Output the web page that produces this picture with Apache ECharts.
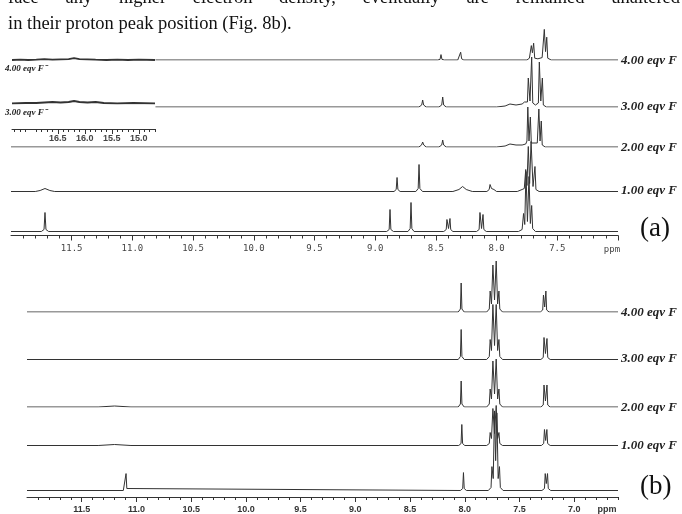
<!DOCTYPE html>
<html>
<head>
<meta charset="utf-8">
<script src="https://cdn.jsdelivr.net/npm/echarts@6.0.0/dist/echarts.min.js"></script>
<style>
html,body{margin:0;padding:0;background:#fff;}
#chart{width:682px;height:514px;}
</style>
</head>
<body>
<div id="chart"></div>
<script>
// 谱线数据 [ppm, 强度]
// (a) 面板
var a0 = [[12.0,0],[11.75,0],[11.728,2],[11.72,19],[11.712,2],[11.69,0],
  [8.905,0],[8.885,2],[8.878,22],[8.871,2],[8.85,0],
  [8.73,0],[8.712,3],[8.705,29],[8.698,3],[8.68,0],
  [8.435,0],[8.415,2],[8.409,12],[8.396,3],[8.384,13],[8.378,2],[8.36,0],
  [8.165,0],[8.144,2],[8.137,19],[8.124,3],[8.112,17],[8.105,2],[8.085,0],
  [7.82,0],[7.79,2],[7.778,18],[7.768,7],[7.758,60],[7.746,10],[7.733,55],[7.722,8],[7.711,26],[7.703,3],[7.68,0],
  [7.0,0]];
var a1 = [[12.0,0],[11.80,0],[11.76,1],[11.72,3],[11.68,1],[11.64,0],
  [8.845,0],[8.827,2],[8.82,14],[8.813,2],[8.795,0],
  [8.665,0],[8.646,3],[8.639,27],[8.632,3],[8.61,0],
  [8.36,0],[8.31,2],[8.28,5],[8.25,2],[8.2,0],
  [8.08,0],[8.061,2],[8.054,7],[8.042,3],[8.03,5],[8.022,2],[8.0,0],
  [7.83,0],[7.79,2],[7.772,3],[7.76,22],[7.75,6],[7.739,45],[7.728,8],[7.716,50],[7.70,5],[7.684,25],[7.676,2],[7.65,0],
  [7.0,0]];
var a2 = [[12.0,0],[8.64,0],[8.618,2],[8.609,5],[8.60,2],[8.58,0],
  [8.475,0],[8.452,2],[8.444,7],[8.436,2],[8.415,0],
  [8.0,0],[7.93,1],[7.89,3],[7.84,2],[7.79,2],[7.775,4],[7.76,3],
  [7.75,6],[7.743,40],[7.733,6],[7.722,30],[7.714,4],[7.70,2],[7.665,4],[7.652,38],[7.642,6],[7.632,26],[7.624,2],[7.60,0],
  [7.0,0]];
var a3 = [[10.81,0],[8.64,0],[8.617,2],[8.609,7],[8.601,2],[8.58,0],
  [8.475,0],[8.452,2],[8.444,10],[8.436,2],[8.415,0],
  [8.0,0],[7.93,1],[7.89,3],[7.84,2],[7.79,3],[7.77,5],[7.755,4],
  [7.746,5],[7.739,29],[7.725,6],[7.711,50],[7.702,4],[7.68,2],[7.656,4],[7.648,45],[7.636,6],[7.623,29],[7.615,2],[7.59,0],
  [7.0,0]];
var a4 = [[10.81,0],[8.485,0],[8.466,1],[8.458,9],[8.45,1],[8.43,0],
  [8.32,0],[8.304,2],[8.296,13],[8.288,2],[8.27,0],
  [7.75,0],[7.73,3],[7.714,24],[7.705,12],[7.695,28],[7.686,3],[7.66,2],[7.625,4],[7.607,51],[7.597,14],[7.587,38],[7.579,3],[7.55,0],
  [7.0,0]];
// (a) 插图 16-15 ppm
var inset4 = [[17.35,0],[17.2,0.5],[17.05,0],[16.9,0.5],[16.75,1.5],[16.6,0.5],[16.45,1],[16.3,1.5],[16.2,3],[16.1,1.5],[15.95,1],[15.8,0.5],[15.6,0],[15.4,0.5],[15.2,0],[15.0,0.5],[14.7,0]];
var inset3 = [[17.35,0],[17.1,0.5],[16.9,0.5],[16.75,1],[16.6,1.5],[16.45,1],[16.3,1.5],[16.2,2.5],[16.1,1.5],[15.95,1],[15.8,1.5],[15.65,0.5],[15.4,0],[15.1,0.5],[14.7,0]];
// (b) 面板
var b0 = [[12.0,0],[11.12,0],[11.102,2],[11.095,17],[11.088,2],[11.07,0],
  [8.04,0],[8.019,2],[8.012,18],[8.005,2],[7.985,0],
  [7.785,0],[7.76,3],[7.752,24],[7.74,12],[7.728,80],[7.718,30],[7.707,78],[7.695,12],[7.683,24],[7.675,3],[7.65,0],
  [7.295,0],[7.272,2],[7.265,17],[7.255,7],[7.244,17],[7.237,2],[7.215,0],
  [6.6,0]];
var b1 = [[12.0,0],[11.35,0],[11.2,1],[11.05,0],
  [8.055,0],[8.034,2],[8.027,21],[8.02,2],[8.0,0],
  [7.80,0],[7.776,2],[7.768,13],[7.756,7],[7.743,37],[7.728,12],[7.713,40],[7.70,7],[7.688,13],[7.68,2],[7.655,0],
  [7.30,0],[7.279,2],[7.272,16],[7.261,5],[7.25,16],[7.243,2],[7.22,0],
  [6.6,0]];
var b2 = [[12.0,0],[11.35,0],[11.2,1],[11.05,0],
  [8.06,0],[8.04,3],[8.033,26],[8.026,3],[8.005,0],
  [7.80,0],[7.776,3],[7.768,18],[7.756,8],[7.743,46],[7.728,13],[7.713,48],[7.70,8],[7.688,18],[7.68,3],[7.655,0],
  [7.305,0],[7.283,2],[7.276,22],[7.263,6],[7.249,22],[7.242,2],[7.22,0],
  [6.6,0]];
var b3 = [[12.0,0],[8.06,0],[8.04,3],[8.033,30],[8.026,3],[8.005,0],
  [7.80,0],[7.776,3],[7.768,20],[7.756,9],[7.743,55],[7.728,14],[7.713,55],[7.70,9],[7.688,20],[7.68,3],[7.655,0],
  [7.305,0],[7.283,2],[7.276,22],[7.263,6],[7.249,21],[7.242,2],[7.22,0],
  [6.6,0]];
var b4 = [[12.0,0],[8.06,0],[8.04,3],[8.033,29],[8.026,3],[8.005,0],
  [7.80,0],[7.776,3],[7.768,21],[7.756,8],[7.743,47],[7.728,12],[7.713,51],[7.70,8],[7.688,21],[7.68,3],[7.655,0],
  [7.31,0],[7.288,2],[7.281,17],[7.27,5],[7.259,21],[7.252,2],[7.23,0],
  [6.6,0]];

var traceNames = ['1.00 eqv F', '2.00 eqv F', '3.00 eqv F', '4.00 eqv F'];
var insetNames = ['4.00 eqv F\u207b', '3.00 eqv F\u207b'];
var topLine1 = 'face any higher electron density, eventually are remained unaltered';
var topLine2 = 'in their proton peak position (Fig. 8b).';

// 刻度
var aMajor = [11.5, 11.0, 10.5, 10.0, 9.5, 9.0, 8.5, 8.0, 7.5, 7.0];
var aLabels = [11.5, 11.0, 10.5, 10.0, 9.5, 9.0, 8.5, 8.0, 7.5];
var bMajor = [11.5, 11.0, 10.5, 10.0, 9.5, 9.0, 8.5, 8.0, 7.5, 7.0];
var bLabels = [11.5, 11.0, 10.5, 10.0, 9.5, 9.0, 8.5, 8.0, 7.5, 7.0];
var insetMajor = [16.5, 16.0, 15.5, 15.0];

function minorList(lo, hi) {
  var out = [];
  for (var v = Math.round(lo * 10); v <= Math.round(hi * 10); v++) {
    if (v % 5 !== 0) out.push(v / 10);
  }
  return out;
}

var H = 514;
var lineColor = '#333';
var grid = [], xAxis = [], yAxis = [], series = [];

function addTrace(data, left, right, baseline, range, width) {
  var i = grid.length;
  grid.push({left: left, width: right - left, bottom: H - baseline, height: 100});
  xAxis.push({type: 'value', gridIndex: i, position: 'bottom', min: range[0], max: range[1], inverse: true, show: false});
  yAxis.push({type: 'value', gridIndex: i, min: 0, max: 100, show: false});
  series.push({type: 'line', xAxisIndex: i, yAxisIndex: i, data: data, symbol: 'none',
    lineStyle: {color: lineColor, width: width || 1}, silent: true, animation: false});
  return i;
}

function addAxis(gi, range, offset, major, labels, minor, labelStyle) {
  xAxis.push({type: 'value', gridIndex: gi, position: 'bottom', min: range[0], max: range[1], inverse: true, offset: offset,
    axisLine: {show: true, onZero: false, lineStyle: {color: lineColor, width: 1}},
    axisTick: {show: true, length: 5, customValues: major, lineStyle: {color: lineColor}},
    axisLabel: Object.assign({show: true, customValues: labels,
      formatter: function (v) { return v.toFixed(1); }}, labelStyle),
    splitLine: {show: false}});
  xAxis.push({type: 'value', gridIndex: gi, position: 'bottom', min: range[0], max: range[1], inverse: true, offset: offset,
    axisLine: {show: false, onZero: false}, axisLabel: {show: false}, splitLine: {show: false},
    axisTick: {show: true, length: 3, customValues: minor, lineStyle: {color: lineColor}}});
}

// (a)
var aRange = [7.0, 12.0];
var aBase = [231.5, 191.5, 147, 107, 60];
var aTr = [a0, a1, a2, a3, a4];
var ga0;
for (var k = 0; k < aTr.length; k++) {
  var g = addTrace(aTr[k], 11, 618, aBase[k], aRange);
  if (k === 0) ga0 = g;
}
// 插图
var insetRange = [14.7, 17.35];
addTrace(inset4, 12, 155, 60, insetRange, 1.8);
var gi3 = addTrace(inset3, 12, 155, 103.5, insetRange, 1.8);
// (b)
var bRange = [6.6, 12.0];
var bBase = [491, 445.5, 407, 359.5, 312];
var bTr = [b0, b1, b2, b3, b4];
var gb0;
for (var k = 0; k < bTr.length; k++) {
  var g = addTrace(bTr[k], 27, 618, bBase[k], bRange);
  if (k === 0) gb0 = g;
}

addAxis(ga0, aRange, 4, aMajor, aLabels, minorList(7.0, 12.0),
  {fontFamily: 'DejaVu Sans Mono', fontSize: 9, color: '#444', margin: 9});
addAxis(gi3, insetRange, 25.5, insetMajor, insetMajor, minorList(14.7, 17.35),
  {fontFamily: 'Liberation Sans', fontWeight: 'bold', fontSize: 9, color: '#444', margin: 5});
addAxis(gb0, bRange, 6.5, bMajor, bLabels, minorList(6.6, 12.0),
  {fontFamily: 'Liberation Sans', fontWeight: 'bold', fontSize: 9, color: '#333', margin: 8});

// 文字
var textFont = '18.5px "Liberation Serif"';
var labelFont = 'italic bold 13px "Liberation Serif"';
var graphic = [
  {type: 'text', x: 8, y: 24, style: {text: topLine2, font: textFont, fill: '#111', verticalAlign: 'middle'}},
  {type: 'text', x: 640, y: 229, style: {text: '(a)', font: '27px "Liberation Serif"', fill: '#111', verticalAlign: 'middle'}},
  {type: 'text', x: 640, y: 487, style: {text: '(b)', font: '27px "Liberation Serif"', fill: '#111', verticalAlign: 'middle'}},
  {type: 'text', x: 612, y: 250, style: {text: 'ppm', font: '9px "DejaVu Sans Mono"', fill: '#444', align: 'center', verticalAlign: 'middle'}},
  {type: 'text', x: 607, y: 510, style: {text: 'ppm', font: 'bold 9px "Liberation Sans"', fill: '#333', align: 'center', verticalAlign: 'middle'}},
  {type: 'text', x: 5, y: 69, style: {text: insetNames[0], font: 'italic bold 9px "Liberation Serif"', fill: '#222', verticalAlign: 'middle'}},
  {type: 'text', x: 5, y: 113, style: {text: insetNames[1], font: 'italic bold 9px "Liberation Serif"', fill: '#222', verticalAlign: 'middle'}}
];

// 第一行两端对齐（只露出下半部分）
var ctx = document.createElement('canvas').getContext('2d');
ctx.font = textFont;
var words = topLine1.split(' ');
var wordsW = 0;
words.forEach(function (w) { wordsW += ctx.measureText(w).width; });
var gap = (680 - 8 - wordsW) / (words.length - 1);
var wx = 8;
words.forEach(function (w) {
  graphic.push({type: 'text', x: wx, y: 8, style: {text: w, font: textFont, fill: '#111', verticalAlign: 'bottom'}});
  wx += ctx.measureText(w).width + gap;
});

var aLabelY = [191, 148, 107, 61];
var bLabelY = [446, 408, 359, 313];
for (var k = 0; k < traceNames.length; k++) {
  graphic.push({type: 'text', x: 621, y: aLabelY[k], style: {text: traceNames[k], font: labelFont, fill: '#222', verticalAlign: 'middle'}});
  graphic.push({type: 'text', x: 621, y: bLabelY[k], style: {text: traceNames[k], font: labelFont, fill: '#222', verticalAlign: 'middle'}});
}

var myChart = echarts.init(document.getElementById('chart'));
myChart.setOption({
  animation: false,
  backgroundColor: '#fff',
  grid: grid,
  xAxis: xAxis,
  yAxis: yAxis,
  series: series,
  graphic: graphic
});
</script>
</body>
</html>
